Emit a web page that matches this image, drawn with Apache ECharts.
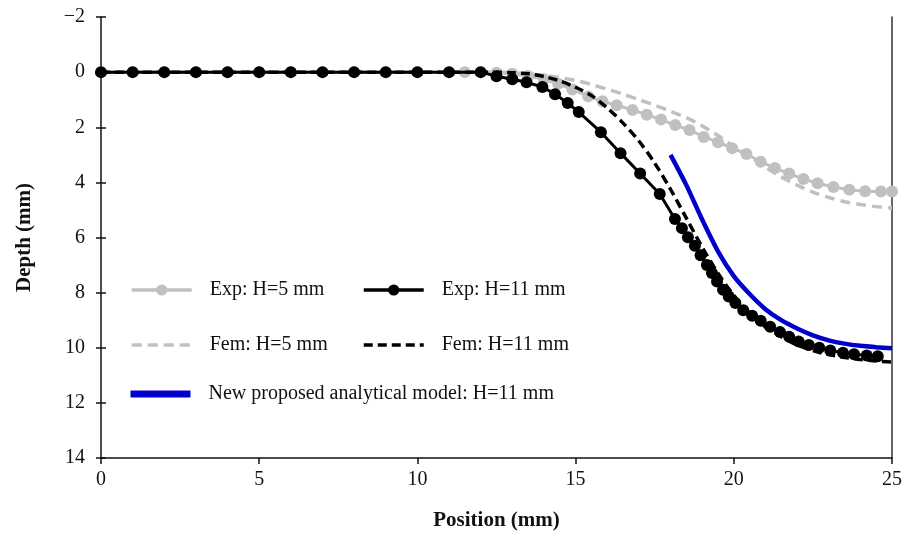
<!DOCTYPE html>
<html>
<head>
<meta charset="utf-8">
<script src="https://cdn.jsdelivr.net/npm/echarts@6/dist/echarts.min.js"></script>
<style>
  html, body { margin: 0; padding: 0; background: #fff; }
  #chart { width: 907px; height: 547px; }
</style>
</head>
<body>
<div id="chart"></div>
<script>
// Exp: H=5 mm (grey dots)
const exp5X = [0, 1, 2, 3, 4, 5, 6, 7, 8, 9, 10, 11, 11.5, 12, 12.5, 13, 13.5, 14, 14.45, 14.9, 15.4, 15.85, 16.3, 16.8, 17.25, 17.7, 18.15, 18.6, 19.05, 19.5, 19.95, 20.4, 20.85, 21.3, 21.75, 22.2, 22.65, 23.15, 23.65, 24.15, 24.65, 25];
const exp5Y = [0, 0, 0, 0, 0, 0, 0, 0, 0, 0, 0, 0, 0, 0, 0.02, 0.06, 0.14, 0.26, 0.42, 0.63, 0.88, 1.06, 1.2, 1.37, 1.55, 1.72, 1.92, 2.1, 2.35, 2.54, 2.76, 2.97, 3.25, 3.48, 3.68, 3.88, 4.03, 4.17, 4.27, 4.32, 4.33, 4.33];

// Exp: H=11 mm (black dots)
const exp11X = [0, 1, 2, 3, 4, 5, 6, 7, 8, 9, 10, 11, 12, 12.5, 13, 13.45, 13.95, 14.35, 14.75, 15.1, 15.8, 16.42, 17.04, 17.66, 18.14, 18.36, 18.55, 18.77, 18.95, 19.15, 19.31, 19.47, 19.66, 19.84, 20.05, 20.3, 20.58, 20.85, 21.15, 21.46, 21.75, 22.05, 22.37, 22.7, 23.05, 23.45, 23.8, 24.2, 24.55];
const exp11Y = [0, 0, 0, 0, 0, 0, 0, 0, 0, 0, 0, 0, 0, 0.15, 0.26, 0.37, 0.54, 0.8, 1.12, 1.45, 2.18, 2.94, 3.68, 4.42, 5.33, 5.66, 5.99, 6.3, 6.64, 7.0, 7.29, 7.6, 7.9, 8.14, 8.38, 8.64, 8.84, 9.02, 9.24, 9.43, 9.6, 9.77, 9.9, 10.0, 10.1, 10.18, 10.24, 10.28, 10.31];

// Fem curves
const femX = [0, 12.5, 13, 13.5, 14, 14.5, 15, 15.5, 16, 16.5, 17, 17.5, 18, 18.5, 19, 19.5, 20, 20.5, 21, 21.5, 22, 22.5, 23, 23.5, 24, 24.5, 25];
const fem5Y = [0, 0, 0.02, 0.06, 0.12, 0.2, 0.3, 0.45, 0.62, 0.8, 1.0, 1.2, 1.42, 1.65, 1.95, 2.3, 2.7, 3.05, 3.45, 3.8, 4.1, 4.35, 4.55, 4.7, 4.8, 4.88, 4.93];
const fem11Y = [0, 0, 0.02, 0.06, 0.16, 0.32, 0.55, 0.85, 1.3, 1.85, 2.5, 3.3, 4.25, 5.3, 6.35, 7.3, 8.1, 8.75, 9.25, 9.6, 9.9, 10.1, 10.25, 10.35, 10.43, 10.48, 10.52];

// New proposed analytical model
const modelX = [18, 18.5, 19, 19.5, 20, 20.5, 21, 21.5, 22, 22.5, 23, 23.5, 24, 24.5, 25];
const modelY = [3.0, 4.1, 5.35, 6.5, 7.4, 8.05, 8.6, 9.0, 9.3, 9.55, 9.73, 9.85, 9.93, 9.98, 10.02];

const xTicks = { min: 0, max: 25, interval: 5 };
const yTicks = { min: -2, max: 14, interval: 2 };

const zip = (xs, ys) => xs.map((x, i) => [x, ys[i]]);

const GREY = "#c0c0c0";
const BLUE = "#0000cc";
const FONT = "Liberation Serif";

const chart = echarts.init(document.getElementById("chart"), null, { renderer: "canvas" });

const legendText = { fontFamily: FONT, fontSize: 20, color: "#111", padding: [0, 0, 0, 13] };
const hidden = { color: "rgba(0,0,0,0)", borderWidth: 0, opacity: 0 };
// one legend per entry so the two columns line up like the original
const mkLegend = (name, left, top, lineStyle, itemStyle) => ({
  data: [name],
  left: left,
  top: top,
  orient: "horizontal",
  itemWidth: 60,
  itemHeight: 14,
  selectedMode: false,
  padding: 0,
  lineStyle: lineStyle,
  itemStyle: itemStyle,
  textStyle: legendText,
});

const option = {
  animation: false,
  backgroundColor: "#fff",
  grid: { left: 101, right: 15, top: 17, bottom: 89 },
  legend: [
    mkLegend("Exp: H=5 mm", 130, 280, { width: 3.5, color: GREY }, { color: GREY, borderWidth: 0 }),
    mkLegend("Exp: H=11 mm", 362, 280, { width: 3.5, color: "#000" }, { color: "#000", borderWidth: 0 }),
    mkLegend("Fem: H=5 mm", 130, 335, { width: 3.5, color: GREY, type: [10, 6] }, hidden),
    mkLegend("Fem: H=11 mm", 362, 335, { width: 3.5, color: "#000", type: [9, 5] }, hidden),
    mkLegend("New proposed analytical model: H=11 mm", 127, 384, { width: 7, color: BLUE }, hidden),
  ],
  xAxis: {
    type: "value",
    ...xTicks,
    name: "Position (mm)",
    nameLocation: "middle",
    nameGap: 52,
    nameTextStyle: { fontFamily: FONT, fontSize: 21, fontWeight: "bold", color: "#111" },
    axisLine: { onZero: false, lineStyle: { color: "#111", width: 1.5 } },
    axisTick: { length: 6, lineStyle: { color: "#111", width: 1.5 } },
    axisLabel: { fontFamily: FONT, fontSize: 20, color: "#111", margin: 12 },
    splitLine: { show: false },
  },
  yAxis: [
    {
      type: "value",
      ...yTicks,
      inverse: true,
      name: "Depth (mm)",
      nameLocation: "middle",
      nameGap: 66,
      nameTextStyle: { fontFamily: FONT, fontSize: 21, fontWeight: "bold", color: "#111" },
      axisLine: { onZero: false, lineStyle: { color: "#111", width: 1.5 } },
      axisTick: { length: 5, lineStyle: { color: "#111", width: 1.5 } },
      axisLabel: {
        fontFamily: FONT, fontSize: 20, color: "#111", margin: 16,
        formatter: (v) => String(v).replace("-", "\u2212"),
      },
      splitLine: { show: false },
    },
    {
      // inner half of the crossing ticks
      type: "value",
      ...yTicks,
      inverse: true,
      position: "left",
      axisLine: { show: false },
      axisTick: { inside: true, length: 5, lineStyle: { color: "#111", width: 1.5 } },
      axisLabel: { show: false },
      splitLine: { show: false },
    },
    {
      // right frame line
      type: "value",
      ...yTicks,
      inverse: true,
      position: "right",
      axisLine: { show: true, onZero: false, lineStyle: { color: "#333", width: 1.5 } },
      axisTick: { show: false },
      axisLabel: { show: false },
      splitLine: { show: false },
    },
  ],
  series: [
    {
      name: "Fem: H=5 mm",
      type: "line",
      data: zip(femX, fem5Y),
      smooth: 0.3,
      symbol: "none",
      color: GREY,
      lineStyle: { color: GREY, width: 3.5, type: [10, 6] },
      z: 2,
    },
    {
      name: "Exp: H=5 mm",
      type: "line",
      data: zip(exp5X, exp5Y),
      symbol: "circle",
      symbolSize: 12,
      color: GREY,
      itemStyle: { color: GREY },
      lineStyle: { color: GREY, width: 3 },
      z: 3,
    },
    {
      name: "Fem: H=11 mm",
      type: "line",
      data: zip(femX, fem11Y),
      smooth: 0.3,
      symbol: "none",
      color: "#000",
      lineStyle: { color: "#000", width: 3.5, type: [9, 5] },
      z: 4,
    },
    {
      name: "Exp: H=11 mm",
      type: "line",
      data: zip(exp11X, exp11Y),
      symbol: "circle",
      symbolSize: 12,
      color: "#000",
      itemStyle: { color: "#000" },
      lineStyle: { color: "#000", width: 3 },
      z: 5,
    },
    {
      name: "New proposed analytical model: H=11 mm",
      type: "line",
      data: zip(modelX, modelY),
      smooth: 0.3,
      symbol: "none",
      color: BLUE,
      lineStyle: { color: BLUE, width: 4.5 },
      z: 6,
    },
  ],
};

chart.setOption(option);
</script>
</body>
</html>
